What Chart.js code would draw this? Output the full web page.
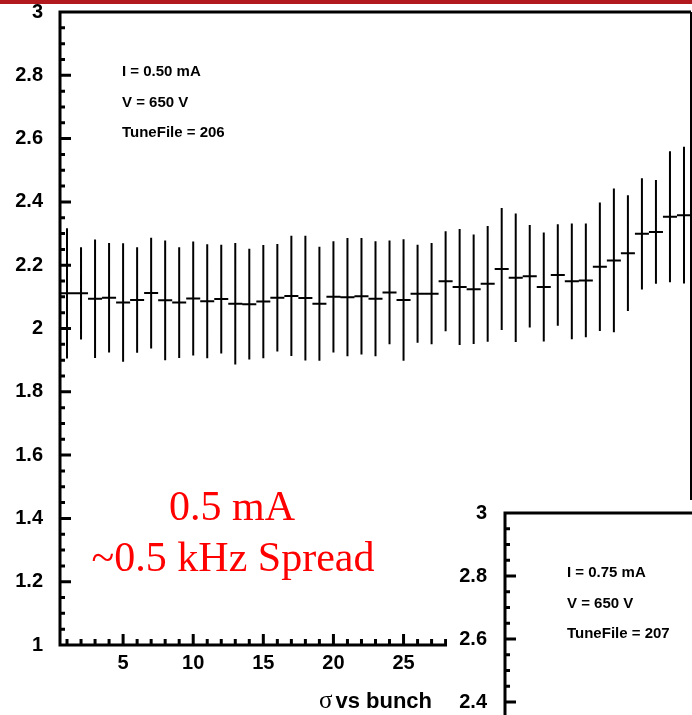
<!DOCTYPE html>
<html>
<head>
<meta charset="utf-8">
<script src="https://cdn.jsdelivr.net/npm/chart.js@4.4.1/dist/chart.umd.min.js"></script>
<style>
  html, body { margin: 0; padding: 0; width: 692px; height: 715px; overflow: hidden; background: #fff; }
  #topBar { position: absolute; left: 0; top: 0; width: 692px; height: 4px; background: #b2191e; z-index: 3; }
  #main { position: absolute; left: 0; top: 0; }
  #inset { position: absolute; left: 447px; top: 500px; background: #fff; z-index: 2; }
</style>
</head>
<body>
<div id="topBar"></div>
<canvas id="main" width="692" height="715"></canvas>
<canvas id="inset" width="700" height="715"></canvas>
<script>
// sigma per bunch, 0.50 mA run
const bunch = [1, 2, 3, 4, 5, 6, 7, 8, 9, 10, 11, 12, 13, 14, 15, 16, 17, 18, 19, 20, 21, 22, 23,
               24, 25, 26, 27, 28, 29, 30, 31, 32, 33, 34, 35, 36, 37, 38, 39, 40, 41, 42, 43, 44, 45];
const sigma = [2.111, 2.111, 2.094, 2.097, 2.082, 2.090, 2.112, 2.089, 2.082, 2.095,
               2.086, 2.093, 2.078, 2.077, 2.085, 2.097, 2.103, 2.096, 2.078, 2.100,
               2.099, 2.102, 2.094, 2.114, 2.090, 2.110, 2.110, 2.149, 2.131, 2.124,
               2.141, 2.188, 2.160, 2.165, 2.131, 2.169, 2.149, 2.152, 2.195, 2.215,
               2.238, 2.299, 2.305, 2.353, 2.358];
const sigmaErr = [0.206, 0.146, 0.187, 0.173, 0.187, 0.167, 0.175, 0.189, 0.175, 0.180,
                  0.180, 0.172, 0.192, 0.175, 0.179, 0.170, 0.190, 0.197, 0.180, 0.176,
                  0.187, 0.184, 0.182, 0.164, 0.192, 0.155, 0.160, 0.158, 0.183, 0.173,
                  0.183, 0.193, 0.203, 0.162, 0.172, 0.160, 0.183, 0.180, 0.203, 0.227,
                  0.183, 0.176, 0.164, 0.207, 0.216];

const yTicks = [1, 1.2, 1.4, 1.6, 1.8, 2, 2.2, 2.4, 2.6, 2.8, 3];
const xTicks = [5, 10, 15, 20, 25, 30, 35, 40, 45];

const mainNotes = ['I = 0.50 mA', 'V = 650 V', 'TuneFile = 206'];
const insetNotes = ['I = 0.75 mA', 'V = 650 V', 'TuneFile = 207'];
const spreadText = ['0.5 mA', '~0.5 kHz Spread'];
const xTitle = 'vs bunch';

const SANS = '"Liberation Sans", Arial, sans-serif';
const SERIF = '"Liberation Serif", "Times New Roman", serif';

// axes drawn ROOT style: thick frame, ticks pointing inwards
const rootFrame = {
    id: 'rootFrame',
    afterDraw(chart, args, opts) {
        const { ctx, chartArea: a, scales } = chart;
        ctx.save();
        ctx.strokeStyle = '#000';
        ctx.lineCap = 'butt';

        ctx.lineWidth = 3;
        ctx.beginPath();
        ctx.moveTo(a.left, a.bottom + 1.5);
        ctx.lineTo(a.left, a.top);
        ctx.lineTo(a.right, a.top);
        if (opts.bottom) {
            ctx.moveTo(a.left - 1.5, a.bottom);
            ctx.lineTo(a.right, a.bottom);
        }
        ctx.stroke();

        ctx.lineWidth = 2;
        ctx.beginPath();
        ctx.moveTo(a.right, a.top);
        ctx.lineTo(a.right, a.bottom);
        ctx.stroke();

        // y ticks every 0.05, long ones every 0.2
        const y = scales.y;
        ctx.lineWidth = 3;
        ctx.beginPath();
        for (let k = 1; k < 40; k++) {
            const v = y.min + k * 0.05;
            const py = y.getPixelForValue(v);
            const len = k % 4 === 0 ? 11 : 5;
            ctx.moveTo(a.left, py);
            ctx.lineTo(a.left + len, py);
        }
        ctx.stroke();

        if (opts.bottom) {
            const x = scales.x;
            ctx.beginPath();
            for (let i = 1; i <= 45; i++) {
                const px = x.getPixelForValue(i);
                const len = i % 5 === 0 ? 11 : 6;
                ctx.moveTo(px, a.bottom);
                ctx.lineTo(px, a.bottom - len);
            }
            ctx.stroke();
        }
        ctx.restore();
    }
};

// vertical error bar plus horizontal bin-width bar at each value
const errorBars = {
    id: 'errorBars',
    afterDatasetsDraw(chart) {
        const ds = chart.data.datasets[0];
        if (!ds) return;
        const { ctx, scales: { x, y } } = chart;
        ctx.save();
        ctx.strokeStyle = '#000';
        ctx.lineWidth = 2;
        ctx.beginPath();
        ds.data.forEach(p => {
            const px = x.getPixelForValue(p.x);
            ctx.moveTo(px, y.getPixelForValue(p.y + p.err));
            ctx.lineTo(px, y.getPixelForValue(p.y - p.err));
            const py = y.getPixelForValue(p.y);
            ctx.moveTo(x.getPixelForValue(p.x - 0.5), py);
            ctx.lineTo(x.getPixelForValue(p.x + 0.5), py);
        });
        ctx.stroke();
        ctx.restore();
    }
};

// run settings text, red remark and axis title
const notes = {
    id: 'notes',
    afterDraw(chart, args, opts) {
        const { ctx, chartArea: a } = chart;
        ctx.save();
        ctx.fillStyle = '#000';
        ctx.font = 'bold 15px ' + SANS;
        ctx.textBaseline = 'middle';
        ctx.textAlign = 'left';
        (opts.lines || []).forEach((t, i) => {
            ctx.fillText(t, a.left + 62, a.top + 60 + i * 30.5);
        });

        if (opts.remark) {
            ctx.fillStyle = '#ff0000';
            ctx.font = '42px ' + SERIF;
            ctx.textAlign = 'center';
            ctx.textBaseline = 'alphabetic';
            ctx.fillText(opts.remark[0], 232, 520);
            ctx.fillText(opts.remark[1], 233, 571);
        }

        if (opts.title) {
            ctx.fillStyle = '#000';
            ctx.textAlign = 'right';
            ctx.textBaseline = 'alphabetic';
            ctx.font = 'bold 22px ' + SANS;
            const right = 432;
            ctx.fillText(opts.title, right, 708);
            const w = ctx.measureText(opts.title).width;
            ctx.font = '25px ' + SERIF;
            ctx.fillText('\u03c3', right - w - 3, 708);
        }
        ctx.restore();
    }
};

const tickFont = { family: SANS, size: 20, weight: 'bold' };

function yScale(width, pad) {
    return {
        type: 'linear', min: 1, max: 3,
        grid: { display: false, drawTicks: false },
        border: { display: false },
        afterBuildTicks: s => { s.ticks = yTicks.map(v => ({ value: v })); },
        afterFit: s => { s.width = width; s.paddingTop = 0; s.paddingBottom = 0; },
        ticks: { font: tickFont, color: '#000', padding: pad, callback: v => String(v) }
    };
}

const points = bunch.map((b, i) => ({ x: b, y: sigma[i], err: sigmaErr[i] }));

new Chart(document.getElementById('main'), {
    type: 'scatter',
    data: { datasets: [{ data: points, pointRadius: 0, showLine: false }] },
    options: {
        responsive: false,
        animation: false,
        layout: { padding: { top: 12, right: 1, left: 0, bottom: 0 } },
        plugins: {
            legend: { display: false },
            tooltip: { enabled: false },
            rootFrame: { bottom: true },
            notes: { lines: mainNotes, remark: spreadText, title: xTitle }
        },
        scales: {
            x: {
                type: 'linear', min: 0.5, max: 45.5,
                grid: { display: false, drawTicks: false },
                border: { display: false },
                afterBuildTicks: s => { s.ticks = xTicks.map(v => ({ value: v })); },
                afterFit: s => { s.height = 70; s.paddingLeft = 0; s.paddingRight = 0; },
                ticks: { font: tickFont, color: '#000', padding: 6, maxRotation: 0, autoSkip: false }
            },
            y: yScale(60, 17)
        }
    },
    plugins: [rootFrame, errorBars, notes]
});

// 0.75 mA panel, only its upper part is in view
new Chart(document.getElementById('inset'), {
    type: 'scatter',
    data: { datasets: [] },
    options: {
        responsive: false,
        animation: false,
        layout: { padding: { top: 13, right: 11, left: 0, bottom: 72 } },
        plugins: {
            legend: { display: false },
            tooltip: { enabled: false },
            rootFrame: { bottom: false },
            notes: { lines: insetNotes }
        },
        scales: {
            x: { type: 'linear', min: 0.5, max: 45.5, display: false },
            y: yScale(58, 18)
        }
    },
    plugins: [rootFrame, notes]
});
</script>
</body>
</html>
